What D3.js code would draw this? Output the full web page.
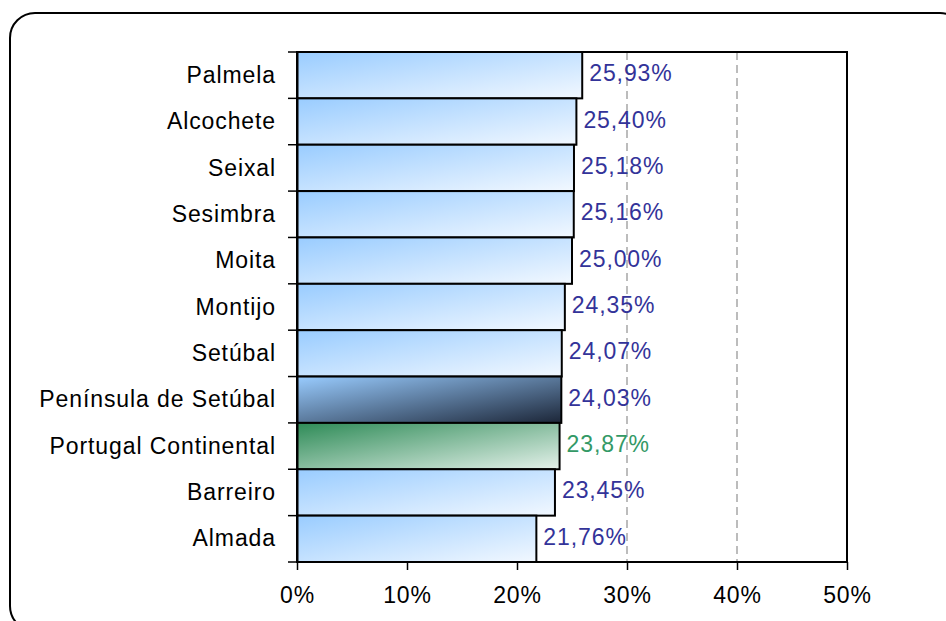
<!DOCTYPE html>
<html>
<head>
    <meta charset="utf-8">
    <title></title>
    <script src="https://d3js.org/d3.v7.min.js"></script>
    <style>
        body { margin: 0; background: #fff; }
        text { font-family: Arial, "Liberation Sans", sans-serif; letter-spacing: 0.9px; }
    </style>
</head>
<body>
    <svg id="chart" width="946" height="621"></svg>

    <script>
    // data
    let categories = ["Palmela", "Alcochete", "Seixal", "Sesimbra", "Moita", "Montijo",
                      "Setúbal", "Península de Setúbal", "Portugal Continental", "Barreiro", "Almada"];
    let values = [25.93, 25.40, 25.18, 25.16, 25.00, 24.35, 24.07, 24.03, 23.87, 23.45, 21.76];
    let ticks = [0, 10, 20, 30, 40, 50];

    let svg = d3.select("#chart");

    // rounded outer frame
    svg.append("rect")
        .attr("x", 10).attr("y", 13)
        .attr("width", 955).attr("height", 618)
        .attr("rx", 25).attr("ry", 25)
        .attr("fill", "#fff")
        .attr("stroke", "#000")
        .attr("stroke-width", 2);

    // gradients
    let defs = svg.append("defs");
    function grad(id, c1, c2) {
        let g = defs.append("linearGradient").attr("id", id)
            .attr("x1", 0).attr("y1", 0).attr("x2", 1).attr("y2", 1);
        g.append("stop").attr("offset", "0%").attr("stop-color", c1);
        g.append("stop").attr("offset", "100%").attr("stop-color", c2);
    }
    grad("gBlue", "#99ccff", "#f2f8ff");
    grad("gDark", "#99ccff", "#1c2638");
    grad("gGreen", "#2e8b57", "#e4f1ea");

    let pLeft = 297, pRight = 847, pTop = 52, pBottom = 562;
    let fs = 23;

    let x = d3.scaleLinear().domain([0, 50]).range([pLeft, pRight]);
    let y = d3.scaleBand().domain(categories).range([pTop, pBottom]).padding(0);

    // dashed gridlines
    svg.append("g").selectAll("line")
        .data(ticks.slice(1, -1))
        .join("line")
        .attr("x1", d => x(d)).attr("x2", d => x(d))
        .attr("y1", pTop).attr("y2", pBottom)
        .attr("stroke", "#999")
        .attr("stroke-width", 1.3)
        .attr("stroke-dasharray", "8,5");

    // plot frame
    svg.append("rect")
        .attr("x", pLeft).attr("y", pTop)
        .attr("width", pRight - pLeft).attr("height", pBottom - pTop)
        .attr("fill", "none")
        .attr("stroke", "#000")
        .attr("stroke-width", 2);

    let fillFor = c => c == "Península de Setúbal" ? "url(#gDark)"
                     : c == "Portugal Continental" ? "url(#gGreen)" : "url(#gBlue)";

    // bars
    svg.append("g").selectAll("rect")
        .data(categories)
        .join("rect")
        .attr("x", x(0))
        .attr("y", d => y(d))
        .attr("width", (d, i) => x(values[i]) - x(0))
        .attr("height", y.bandwidth())
        .attr("fill", fillFor)
        .attr("stroke", "#000")
        .attr("stroke-width", 2);

    // value labels
    svg.append("g").selectAll("text")
        .data(categories)
        .join("text")
        .attr("x", (d, i) => x(values[i]) + 7)
        .attr("y", d => y(d) + y.bandwidth() / 2 + 6)
        .attr("font-size", fs)
        .attr("fill", d => d == "Portugal Continental" ? "#339966" : "#333399")
        .text((d, i) => values[i].toFixed(2).replace(".", ",") + "%");

    // y axis
    let yAxis = svg.append("g")
        .attr("transform", "translate(" + pLeft + ",0)")
        .call(d3.axisLeft(y).tickSize(0).tickPadding(21));
    yAxis.select(".domain").attr("stroke", "#000").attr("stroke-width", 2);
    yAxis.selectAll("text")
        .attr("font-size", fs)
        .attr("fill", "#000")
        .attr("dy", "0.33em")
        .style("font-family", "Arial, 'Liberation Sans', sans-serif");

    // y tick marks at band edges
    let edges = categories.map(c => y(c)).concat([pBottom]);
    svg.append("g").selectAll("line")
        .data(edges)
        .join("line")
        .attr("x1", pLeft - 9).attr("x2", pLeft)
        .attr("y1", d => d).attr("y2", d => d)
        .attr("stroke", "#000")
        .attr("stroke-width", 1.5);

    // x axis
    let xAxis = svg.append("g")
        .attr("transform", "translate(0," + pBottom + ")")
        .call(d3.axisBottom(x).tickValues(ticks).tickSize(8).tickPadding(17)
              .tickFormat(d => d + "%"));
    xAxis.select(".domain").remove();
    xAxis.selectAll("line").attr("stroke", "#000").attr("stroke-width", 1.5);
    xAxis.selectAll("text")
        .attr("font-size", fs)
        .attr("fill", "#000")
        .style("font-family", "Arial, 'Liberation Sans', sans-serif");
    </script>
</body>
</html>
